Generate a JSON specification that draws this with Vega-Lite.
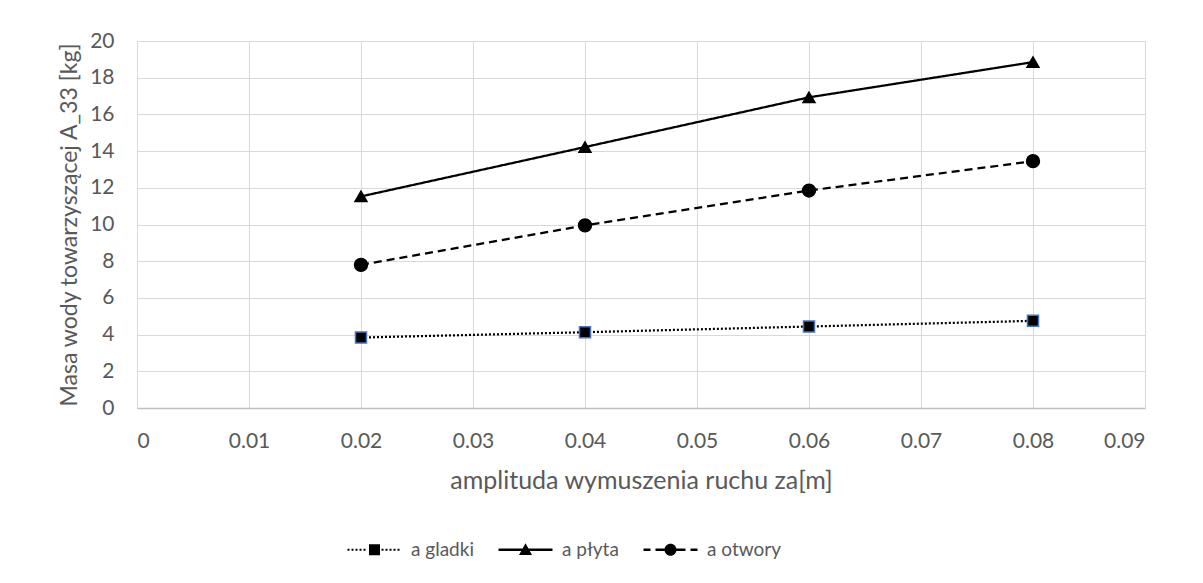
{
  "$schema": "https://vega.github.io/schema/vega-lite/v6.json",
  "width": 1008,
  "height": 367,
  "autosize": "none",
  "padding": {"left": 137, "top": 41, "right": 58, "bottom": 175},
  "background": "white",
  "config": {"view": {"stroke": null}, "font": "Lato"},
  "data": {
    "values": [
      {"x": 0.02, "y": 3.84, "s": "a gladki"},
      {"x": 0.04, "y": 4.13, "s": "a gladki"},
      {"x": 0.06, "y": 4.44, "s": "a gladki"},
      {"x": 0.08, "y": 4.75, "s": "a gladki"},
      {"x": 0.02, "y": 11.53, "s": "a płyta"},
      {"x": 0.04, "y": 14.22, "s": "a płyta"},
      {"x": 0.06, "y": 16.93, "s": "a płyta"},
      {"x": 0.08, "y": 18.85, "s": "a płyta"},
      {"x": 0.02, "y": 7.8, "s": "a otwory"},
      {"x": 0.04, "y": 9.95, "s": "a otwory"},
      {"x": 0.06, "y": 11.85, "s": "a otwory"},
      {"x": 0.08, "y": 13.45, "s": "a otwory"}
    ]
  },
  "encoding": {
    "x": {
      "field": "x",
      "type": "quantitative",
      "scale": {"domain": [0, 0.09], "nice": false, "zero": false},
      "axis": {
        "values": [0, 0.01, 0.02, 0.03, 0.04, 0.05, 0.06, 0.07, 0.08, 0.09],
        "format": "~g",
        "title": "amplituda wymuszenia ruchu za[m]",
        "grid": true,
        "gridColor": "#d9d9d9",
        "gridWidth": 1,
        "domainColor": "#bfbfbf",
        "domainWidth": 1.5,
        "ticks": false,
        "labelPadding": 22,
        "labelFontSize": 21,
        "labelColor": "#595959",
        "labelFont": "Lato",
        "titleFont": "Lato",
        "titleFontSize": 25,
        "titleFontWeight": "normal",
        "titleColor": "#595959",
        "titleX": 504,
        "titleY": 80,
        "titleAlign": "center",
        "titleBaseline": "alphabetic"
      }
    },
    "y": {
      "field": "y",
      "type": "quantitative",
      "scale": {"domain": [0, 20], "nice": false},
      "axis": {
        "values": [0, 2, 4, 6, 8, 10, 12, 14, 16, 18, 20],
        "title": "Masa wody towarzyszącej A_33 [kg]",
        "grid": true,
        "gridColor": "#d9d9d9",
        "gridWidth": 1,
        "domain": false,
        "ticks": false,
        "labelPadding": 23,
        "labelFontSize": 21,
        "labelColor": "#595959",
        "labelFont": "Lato",
        "titleFont": "Lato",
        "titleFontSize": 23,
        "titleFontWeight": "normal",
        "titleColor": "#595959",
        "titleAngle": -90,
        "titleX": -61,
        "titleY": 183.5,
        "titleAlign": "center",
        "titleBaseline": "alphabetic"
      }
    }
  },
  "layer": [
    {
      "mark": {"type": "line", "color": "black", "strokeWidth": 2.25},
      "encoding": {
        "strokeDash": {
          "field": "s",
          "type": "nominal",
          "scale": {"domain": ["a gladki", "a płyta", "a otwory"], "range": [[2, 2], [1, 0], [8, 5]]},
          "legend": null
        }
      }
    },
    {
      "mark": {"type": "point", "filled": true, "fill": "black", "strokeWidth": 1.5, "opacity": 1},
      "encoding": {
        "shape": {
          "field": "s",
          "type": "nominal",
          "scale": {"domain": ["a gladki", "a płyta", "a otwory"], "range": ["square", "triangle-up", "circle"]},
          "legend": null
        },
        "stroke": {
          "field": "s",
          "type": "nominal",
          "scale": {"domain": ["a gladki", "a płyta", "a otwory"], "range": ["#4472C4", "black", "black"]},
          "legend": null
        },
        "size": {
          "field": "s",
          "type": "nominal",
          "scale": {"domain": ["a gladki", "a płyta", "a otwory"], "range": [121, 165, 130]},
          "legend": null
        }
      }
    },
    {
      "transform": [{"filter": "datum.y > 1000"}],
      "mark": {"type": "point", "filled": true, "color": "black", "opacity": 1},
      "encoding": {
        "shape": {
          "field": "s",
          "type": "nominal",
          "scale": {
            "domain": ["a gladki", "a płyta", "a otwory"],
            "range": [
              "M-1.2,-0.2H-0.8V0.2H-1.2ZM-0.4,-0.2H0V0.2H-0.4ZM0.4,-0.2H0.8V0.2H0.4ZM1.2,-0.2H1.6V0.2H1.2ZM2,-0.2H2.4V0.2H2ZM5.6,-0.2H6V0.2H5.6ZM6.4,-0.2H6.8V0.2H6.4ZM7.2,-0.2H7.6V0.2H7.2ZM8,-0.2H8.4V0.2H8ZM8.8,-0.2H9.2V0.2H8.8ZM3.1,-1.1H5.3V1.1H3.1Z",
              "M-1.2,-0.25H9.6V0.25H-1.2ZM4.2,-1.3L5.5,1.05H2.9Z",
              "M-1.2,-0.25H0.2V0.25H-1.2ZM1.2,-0.25H3.2V0.25H1.2ZM5.2,-0.25H7.2V0.25H5.2ZM8.2,-0.25H9.6V0.25H8.2ZM5.4,0A1.2,1.2,0,1,1,3,0A1.2,1.2,0,1,1,5.4,0Z"
            ]
          },
          "legend": {
            "title": null,
            "orient": "none",
            "direction": "horizontal",
            "legendX": 207,
            "legendY": 499,
            "symbolSize": 100,
            "symbolStrokeWidth": 2,
            "symbolFillColor": "black",
            "symbolOpacity": 1,
            "labelOffset": 48,
            "columnPadding": 20,
            "labelFont": "Lato",
            "labelFontSize": 19,
            "labelColor": "#595959",
            "encode": {
              "symbols": {
                "update": {
                  "fill": {"value": "black"},
                  "fillOpacity": {"value": 1},
                  "strokeWidth": {"value": 0},
                  "opacity": {"value": 1}
                }
              }
            }
          }
        }
      }
    }
  ],
  "resolve": {"scale": {"shape": "independent"}}
}
